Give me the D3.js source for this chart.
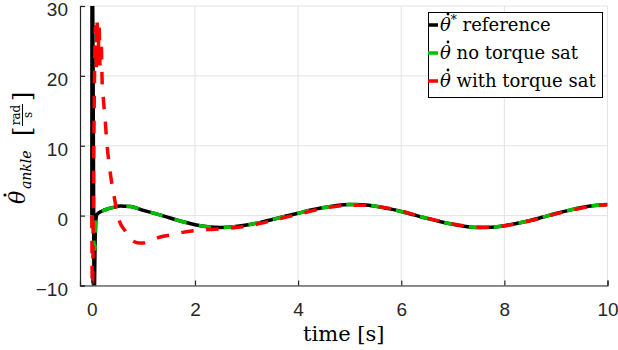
<!DOCTYPE html>
<html>
<head>
<meta charset="utf-8">
<script src="https://cdnjs.cloudflare.com/ajax/libs/d3/7.8.5/d3.min.js"></script>
<style>
  body { margin: 0; background: #fff; }
  svg { display: block; }
</style>
</head>
<body>
<svg width="618" height="350"></svg>
<script>
// values
var refTime = [0, 0.005, 0.03, 0.045, 0.065, 0.08, 0.1, 0.2, 0.3, 0.4, 0.55, 0.75, 1.0, 1.25, 1.5, 1.75, 2.0, 2.25, 2.5, 2.75, 3.0, 3.25, 3.5, 3.75, 4.0, 4.25, 4.5, 4.75, 5.0, 5.25, 5.5, 5.75, 6.0, 6.25, 6.5, 6.75, 7.0, 7.25, 7.5, 7.75, 8.0, 8.25, 8.5, 8.75, 9.0, 9.25, 9.5, 9.75, 10.0];
var refValue = [0, 45, 10, -12, -3, -0.5, 0.2, 0.66, 0.95, 1.14, 1.37, 1.3, 0.75, 0.25, -0.3, -0.85, -1.3, -1.6, -1.7, -1.6, -1.35, -1.0, -0.55, -0.1, 0.35, 0.8, 1.15, 1.45, 1.6, 1.55, 1.35, 1.0, 0.6, 0.1, -0.4, -0.85, -1.25, -1.55, -1.7, -1.65, -1.45, -1.1, -0.7, -0.2, 0.3, 0.75, 1.15, 1.45, 1.6];

var noSatTime = [0, 0.03, 0.065, 0.075, 0.085, 0.12, 0.2, 0.3, 0.4, 0.55, 0.75, 1.0, 1.25, 1.5, 1.75, 2.0, 2.25, 2.5, 2.75, 3.0, 3.25, 3.5, 3.75, 4.0, 4.25, 4.5, 4.75, 5.0, 5.25, 5.5, 5.75, 6.0, 6.25, 6.5, 6.75, 7.0, 7.25, 7.5, 7.75, 8.0, 8.25, 8.5, 8.75, 9.0, 9.25, 9.5, 9.75, 10.0];
var noSatValue = [0, -3, -4.8, -1, 0, 0.35, 0.66, 0.95, 1.14, 1.37, 1.3, 0.75, 0.25, -0.3, -0.85, -1.3, -1.6, -1.7, -1.6, -1.35, -1.0, -0.55, -0.1, 0.35, 0.8, 1.15, 1.45, 1.6, 1.55, 1.35, 1.0, 0.6, 0.1, -0.4, -0.85, -1.25, -1.55, -1.7, -1.65, -1.45, -1.1, -0.7, -0.2, 0.3, 0.75, 1.15, 1.45, 1.6];

var satTime = [0, 0.01, 0.035, 0.055, 0.07, 0.085, 0.1, 0.12, 0.14, 0.16, 0.18, 0.2, 0.22, 0.26, 0.29, 0.35, 0.43, 0.53, 0.65, 0.76, 0.9, 1.0, 1.1, 1.31, 1.5, 1.76, 2.0, 2.25, 2.5, 2.75, 3.0, 3.25, 3.5, 3.75, 4.0, 4.25, 4.5, 4.75, 5.0, 5.25, 5.5, 5.75, 6.0, 6.25, 6.5, 6.75, 7.0, 7.25, 7.5, 7.75, 8.0, 8.25, 8.5, 8.75, 9.0, 9.25, 9.5, 9.75, 10.0];
var satValue = [0, -12, 8, 22, 27, 21, 28, 22, 27, 21, 25, 19, 17, 13.5, 10.5, 6.5, 2.8, -0.7, -2.2, -3.4, -3.9, -3.9, -3.7, -3.1, -2.8, -2.4, -2.15, -2.0, -1.9, -1.75, -1.5, -1.15, -0.7, -0.25, 0.2, 0.65, 1.05, 1.35, 1.45, 1.5, 1.35, 1.05, 0.65, 0.15, -0.35, -0.8, -1.2, -1.5, -1.65, -1.65, -1.45, -1.15, -0.75, -0.25, 0.25, 0.7, 1.1, 1.4, 1.55];

var xTicks = [0, 2, 4, 6, 8, 10];
var yTicks = [-10, 0, 10, 20, 30];
var legendLabels = ["reference", "no torque sat", "with torque sat"];

var svg = d3.select("svg");
var plotLeft = 80, plotRight = 607.5, plotTop = 6, plotBottom = 285.5;
var axisColor = "#262626";
var serif = "'DejaVu Serif', serif";

var x = d3.scaleLinear().domain([-0.23, 10]).range([plotLeft, plotRight]);
var y = d3.scaleLinear().domain([-10, 30]).range([plotBottom, plotTop]);

// grid
var grid = svg.append("g").attr("stroke", "#e3e3e3").attr("stroke-width", 1);
grid.selectAll(".gx").data(xTicks).enter().append("line")
    .attr("x1", function(d) { return x(d); }).attr("x2", function(d) { return x(d); })
    .attr("y1", plotTop).attr("y2", plotBottom);
grid.selectAll(".gy").data(yTicks).enter().append("line")
    .attr("x1", plotLeft).attr("x2", plotRight)
    .attr("y1", function(d) { return y(d); }).attr("y2", function(d) { return y(d); });

svg.append("clipPath").attr("id", "clip")
  .append("rect").attr("x", plotLeft).attr("y", plotTop)
  .attr("width", plotRight - plotLeft).attr("height", plotBottom - plotTop);

function series(t, v) {
  return t.map(function(d, i) { return [d, v[i]]; });
}

var line = d3.line()
    .x(function(d) { return x(d[0]); })
    .y(function(d) { return y(d[1]); })
    .curve(d3.curveMonotoneX);

var plot = svg.append("g").attr("clip-path", "url(#clip)").attr("fill", "none");

plot.append("path")
    .attr("d", line(series(refTime, refValue)))
    .attr("stroke", "#000").attr("stroke-width", 3.5);

plot.append("path")
    .attr("d", line(series(noSatTime, noSatValue)))
    .attr("stroke", "#00c000").attr("stroke-width", 3.5)
    .attr("stroke-dasharray", "12.5,12.5");

plot.append("path")
    .attr("d", line(series(satTime, satValue)))
    .attr("stroke", "#ff0000").attr("stroke-width", 3.5)
    .attr("stroke-dasharray", "12.5,12.5");

// axes
var xAxis = svg.append("g")
    .attr("transform", "translate(0," + plotBottom + ")")
    .call(d3.axisBottom(x).tickValues(xTicks).tickSize(-5).tickPadding(17.5));
var yAxis = svg.append("g")
    .attr("transform", "translate(" + plotLeft + ",0)")
    .call(d3.axisLeft(y).tickValues(yTicks).tickSize(-5).tickPadding(12));

[xAxis, yAxis].forEach(function(a) {
  a.select(".domain").attr("stroke", axisColor).attr("stroke-width", 1.2);
  a.selectAll(".tick line").attr("stroke", axisColor).attr("stroke-width", 1.2);
  a.selectAll(".tick text").attr("fill", axisColor)
    .style("font-family", "'Liberation Sans', Arial, sans-serif").style("font-size", "19px");
});
yAxis.selectAll(".tick text").attr("dy", "0.5em");

// x label
svg.append("text")
    .attr("x", (plotLeft + plotRight) / 2).attr("y", 341)
    .attr("text-anchor", "middle")
    .style("font-family", serif).style("font-size", "21px")
    .text("time [s]");

// y label (rotated)
var yl = svg.append("g")
    .attr("transform", "translate(25,204) rotate(-90)")
    .style("font-family", serif).attr("fill", "#000");
yl.append("text").attr("x", 0).attr("y", 0)
    .style("font-style", "italic").style("font-size", "22px").text("\u03b8");
yl.append("circle").attr("cx", 9).attr("cy", -20).attr("r", 1.6);
yl.append("text").attr("x", 15).attr("y", 6)
    .style("font-style", "italic").style("font-size", "14px").text("ankle");
yl.append("text").attr("x", 68).attr("y", 5)
    .style("font-size", "24px").text("[");
yl.append("text").attr("x", 89).attr("y", -5).attr("text-anchor", "middle")
    .style("font-size", "12px").text("rad");
yl.append("line").attr("x1", 78).attr("x2", 100).attr("y1", -2.5).attr("y2", -2.5)
    .attr("stroke", "#000").attr("stroke-width", 1);
yl.append("text").attr("x", 89).attr("y", 7).attr("text-anchor", "middle")
    .style("font-size", "12px").text("s");
yl.append("text").attr("x", 103).attr("y", 5)
    .style("font-size", "24px").text("]");

// legend
var legendColors = ["#000", "#00c000", "#ff0000"];
var lg = svg.append("g");
lg.append("rect").attr("x", 428.5).attr("y", 12.5).attr("width", 174).attr("height", 85)
    .attr("fill", "#fff").attr("stroke", "#000").attr("stroke-width", 1);
var rows = lg.selectAll(".row").data(legendLabels).enter().append("g")
    .attr("transform", function(d, i) { return "translate(428," + (25 + i * 28) + ")"; });
rows.append("line").attr("x1", 0).attr("x2", 10).attr("y1", 0).attr("y2", 0)
    .attr("stroke", function(d, i) { return legendColors[i]; }).attr("stroke-width", 3.5);
rows.append("circle").attr("cx", 20).attr("cy", -11).attr("r", 1.4).attr("fill", "#000");
var lt = rows.append("text").attr("x", 12).attr("y", 6)
    .style("font-family", serif).style("font-size", "18px");
lt.append("tspan").style("font-style", "italic").text("\u03b8");
lt.filter(function(d, i) { return i == 0; }).append("tspan")
    .attr("dy", -7).style("font-size", "12px").text("*");
lt.append("tspan")
    .attr("dy", function(d, i) { return i == 0 ? 7 : 0; })
    .text(function(d) { return " " + d; });
</script>
</body>
</html>
